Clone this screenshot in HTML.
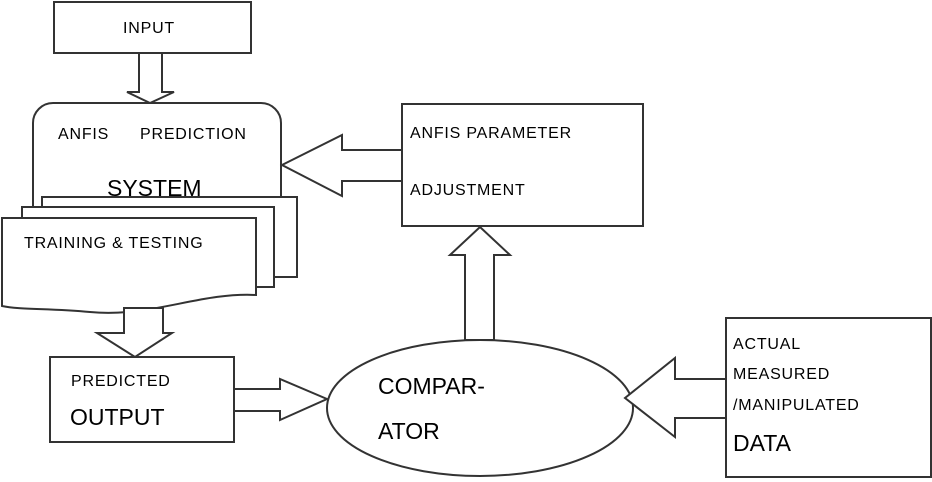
<!DOCTYPE html>
<html><head><style>
body{margin:0;background:#fff}
svg{display:block}
text{font-family:"Liberation Sans",sans-serif;fill:#000}
.s{font-size:16px;letter-spacing:0.8px}
.l{font-size:23px}
</style></head><body>
<svg width="932" height="482" viewBox="0 0 932 482" xmlns="http://www.w3.org/2000/svg">
<g fill="#fff" stroke="#333" stroke-width="2">
<rect x="54" y="2" width="197" height="51"/>
<polygon points="139,53 162,53 162,92 174,92 150,103 127,92 139,92"/>
<rect x="33" y="103" width="248" height="130" rx="20"/>
<rect x="42" y="197" width="255" height="80"/>
<rect x="22" y="207" width="252" height="80"/>
<path d="M2,218 H256 V295 C200,292 150,318 90,312 C50,308 20,310 2,306 Z"/>
<polygon points="124,308 163,308 163,333 172,333 135,357 97,333 124,333"/>
<rect x="50" y="357" width="184" height="85"/>
<polygon points="234,389 280,389 280,379 327,399 280,420 280,411 234,411"/>
<ellipse cx="480" cy="408" rx="153" ry="68"/>
<polygon points="465,340 494,340 494,255 510,255 480,227 450,255 465,255"/>
<rect x="402" y="104" width="241" height="122"/>
<polygon points="402,150 342,150 342,135 282,165 342,196 342,181 402,181"/>
<rect x="726" y="318" width="205" height="159"/>
<polygon points="726,379 675,379 675,358 625,398 675,437 675,418 726,418"/>
</g>
<text class="s" x="123" y="33">INPUT</text>
<text class="s" x="58" y="139">ANFIS</text>
<text class="s" x="140" y="139">PREDICTION</text>
<text class="l" x="107" y="196">SYSTEM</text>
<text class="s" x="24" y="248">TRAINING &amp; TESTING</text>
<text class="s" x="71" y="386">PREDICTED</text>
<text class="l" x="70" y="425">OUTPUT</text>
<text class="l" x="378" y="394">COMPAR-</text>
<text class="l" x="378" y="439">ATOR</text>
<text class="s" x="410" y="138">ANFIS PARAMETER</text>
<text class="s" x="410" y="195">ADJUSTMENT</text>
<text class="s" x="733" y="349">ACTUAL</text>
<text class="s" x="733" y="379">MEASURED</text>
<text class="s" x="733" y="410">/MANIPULATED</text>
<text class="l" x="733" y="451">DATA</text>
</svg>
</body></html>
